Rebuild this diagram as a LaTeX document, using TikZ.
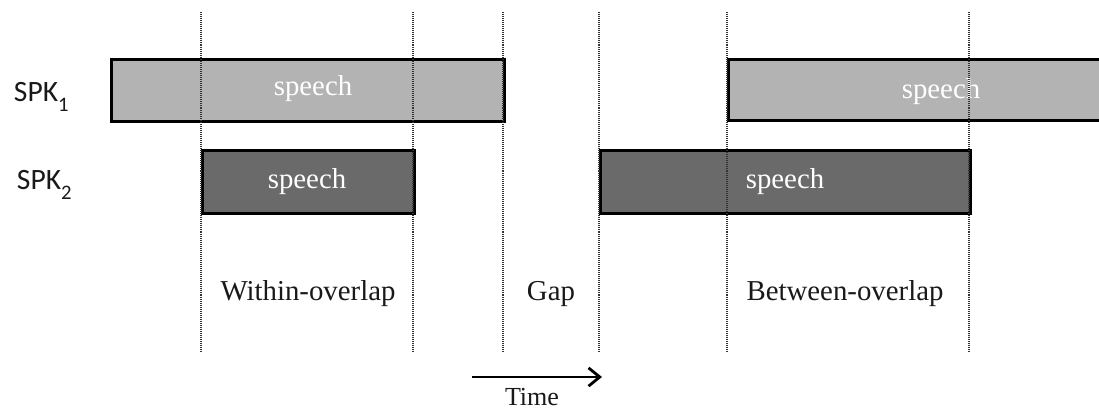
\documentclass[tikz,border=0pt]{standalone}
\usepackage{fontspec}
\setmainfont{Liberation Serif}
\newfontfamily\lblfont{Carlito}
\usetikzlibrary{arrows.meta}
\definecolor{lightsp}{HTML}{B3B3B3}
\definecolor{darksp}{HTML}{6A6A6A}
\begin{document}
\begin{tikzpicture}[x=0.025cm,y=-0.025cm,
  spbox/.style={draw=black,line width=2pt,inner sep=0pt,anchor=north west},
  spk1/.style={spbox,fill=lightsp},
  spk2/.style={spbox,fill=darksp},
  sptext/.style={text=white,font=\fontsize{20.5}{24}\selectfont},
  guide/.style={black!80,line width=1pt,dash pattern=on 0.7pt off 0.7pt},
  caption/.style={font=\fontsize{20.5}{24}\selectfont,text=black!90},
  spklbl/.style={font=\lblfont\fontsize{21}{24}\selectfont,text=black!90,anchor=west}]
\useasboundingbox (0,0) rectangle (1099,410);
\clip (0,0) rectangle (1099,410);
% guide line end points
\foreach \n/\x in {a/201,b/413,c/503,d/599,e/727,f/969}{
  \coordinate (\n top) at (\x,12);
  \coordinate (\n bot) at (\x,351);
}
% speaker labels
\node[spklbl] (s1) at (9,97) {SPK\raisebox{-0.35ex}{\textsubscript{1}}};
\node[spklbl] (s2) at (12,185) {SPK\raisebox{-0.35ex}{\textsubscript{2}}};
% boxes
\node[spk1,minimum width=393*0.025cm,minimum height=62*0.025cm] (b1) at (110,58) {};
\node[sptext] (t1) at (313,89) {speech};
\node[spk2,minimum width=212*0.025cm,minimum height=63*0.025cm] (b2) at (201,149) {};
\node[sptext] (t2) at (307,182) {speech};
\node[spk2,minimum width=370*0.025cm,minimum height=63*0.025cm] (b3) at (599,149) {};
\node[sptext] (t3) at (785,182) {speech};
\node[spk1,minimum width=440*0.025cm,minimum height=61*0.025cm] (b4) at (727,58) {};
\node[sptext] (t4) at (941,92) {speech};
% dotted guides
\foreach \n in {a,b,c,d,e,f}{
  \draw[guide] (\n top) -- (\n bot);
}
% captions
\node[caption] (w) at (308,294) {Within-overlap};
\node[caption] (g) at (551,294) {Gap};
\node[caption] (bo) at (845,294) {Between-overlap};
% time arrow
\coordinate (ts) at (472,377);
\coordinate (te) at (602,377);
\draw[line width=2pt,-{Straight Barb[length=8pt,width=13pt,line width=2pt]}] (ts) -- (te);
\node[caption,font=\fontsize{18.5}{20}\selectfont,inner sep=1pt] (time) at (532,397) {Time};
\end{tikzpicture}
\end{document}
